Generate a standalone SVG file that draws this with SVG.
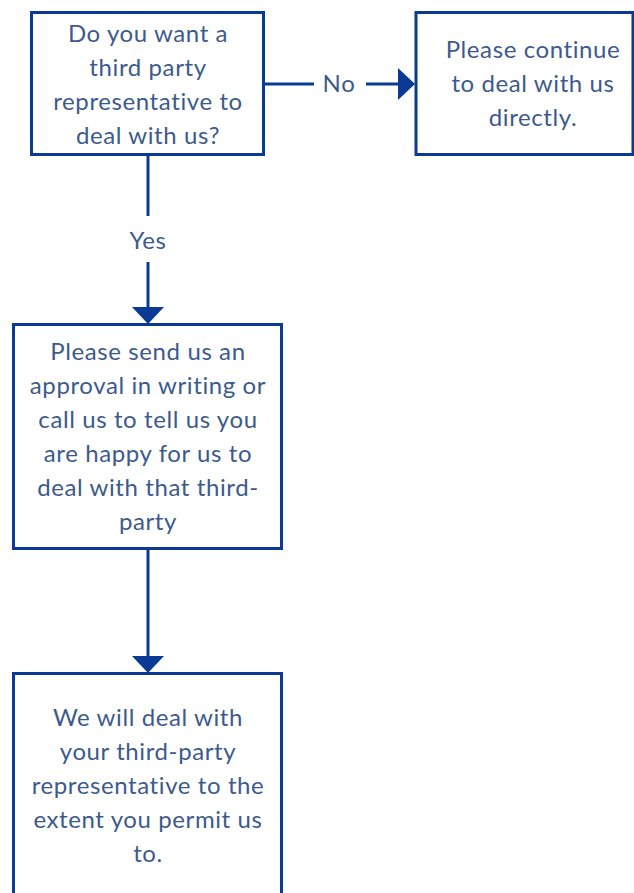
<svg xmlns="http://www.w3.org/2000/svg" width="634" height="893" viewBox="0 0 634 893">
<style>
.box{fill:#fff;stroke:#0b3a94;stroke-width:3}
.t{font-family:Lato,"Liberation Sans",sans-serif;font-size:24px;letter-spacing:0.6px;fill:#3d5a8c;text-anchor:middle}
.ln{stroke:#0b3a94;stroke-width:3;fill:none}
.ah{fill:#0b3a94}
</style>
<rect width="634" height="893" fill="#fff"/>
<g id="connectors">
<path class="ln" d="M264 84H314M366 84H402"/>
<path class="ah" d="M398 68L415 84L398 100Z"/>
<text class="t" x="339" y="92">No</text>
<path class="ln" d="M148 155V216M148 262V310"/>
<path class="ah" d="M132 307H164L148 324Z"/>
<text class="t" x="148" y="249">Yes</text>
<path class="ln" d="M148 548V660"/>
<path class="ah" d="M132 656H164L148 673Z"/>
</g>
<g id="q1">
<rect class="box" x="31.5" y="12.5" width="232" height="142"/>
<text class="t" x="148" y="42">Do you want a</text>
<text class="t" x="148" y="76">third party</text>
<text class="t" x="148" y="110">representative to</text>
<text class="t" x="148" y="144">deal with us?</text>
</g>
<g id="direct">
<rect class="box" x="416" y="12.5" width="217" height="142"/>
<text class="t" x="533" y="58">Please continue</text>
<text class="t" x="533" y="92">to deal with us</text>
<text class="t" x="533" y="126">directly.</text>
</g>
<g id="approval">
<rect class="box" x="13.5" y="324.5" width="268" height="224"/>
<text class="t" x="148" y="360">Please send us an</text>
<text class="t" x="148" y="394">approval in writing or</text>
<text class="t" x="148" y="428">call us to tell us you</text>
<text class="t" x="148" y="462">are happy for us to</text>
<text class="t" x="148" y="496">deal with that third-</text>
<text class="t" x="148" y="530">party</text>
</g>
<g id="permit">
<rect class="box" x="13.5" y="673.5" width="268" height="240"/>
<text class="t" x="148" y="726">We will deal with</text>
<text class="t" x="148" y="760">your third-party</text>
<text class="t" x="148" y="794">representative to the</text>
<text class="t" x="148" y="828">extent you permit us</text>
<text class="t" x="148" y="862">to.</text>
</g>
</svg>
